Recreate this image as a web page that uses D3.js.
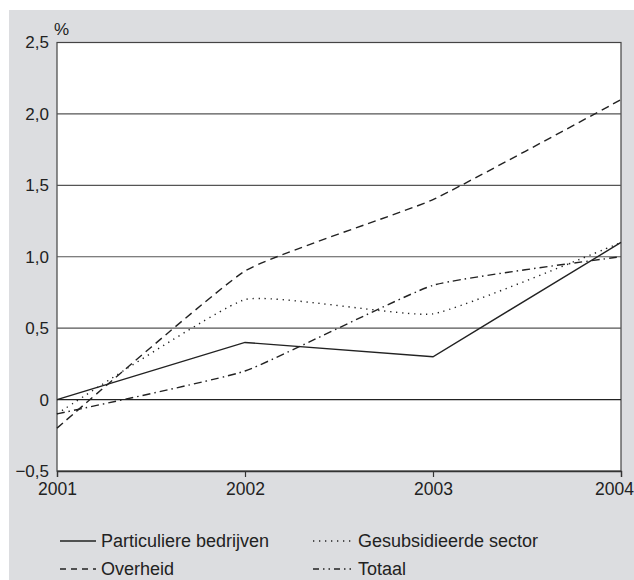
<!DOCTYPE html>
<html><head><meta charset="utf-8">
<script src="https://cdn.jsdelivr.net/npm/d3@7"></script>
<style>body{margin:0;background:#fff}svg{display:block}text{font-family:"Liberation Sans",Arial,sans-serif;fill:#222}</style>
</head><body>
<script>
const years = [2001, 2002, 2003, 2004];
const particuliere = [0, 0.4, 0.3, 1.1];
const gesubsidieerde = [-0.1, 0.7, 0.6, 1.1];
const overheid = [-0.2, 0.9, 1.4, 2.1];
const totaal = [-0.1, 0.2, 0.8, 1.0];
const yTicks = [-0.5, 0, 0.5, 1.0, 1.5, 2.0, 2.5];
const seriesNames = ["Particuliere bedrijven", "Gesubsidieerde sector", "Overheid", "Totaal"];

const W = 634, H = 580;
const svg = d3.select("body").append("svg").attr("width", W).attr("height", H);
svg.append("rect").attr("x", 9).attr("y", 10).attr("width", W - 9).attr("height", H - 10).attr("fill", "#dcdde0");

const x = d3.scaleLinear().domain([2001, 2004]).range([57, 621]);
const y = d3.scaleLinear().domain([-0.5, 2.5]).range([471, 42.5]);

svg.append("rect").attr("x", x(2001)).attr("y", y(2.5)).attr("width", x(2004) - x(2001)).attr("height", y(-0.5) - y(2.5))
  .attr("fill", "#fff").attr("stroke", "#444").attr("stroke-width", 1.2);

const fmt = v => v === 0 ? "0" : d3.format(".1f")(v).replace(".", ",").replace("-", "\u2212");

// gridlines
svg.append("g").selectAll("line").data(yTicks.filter(v => v > -0.5 && v < 2.5)).join("line")
  .attr("x1", x(2001)).attr("x2", x(2004)).attr("y1", d => y(d)).attr("y2", d => y(d))
  .attr("stroke", d => d === 0 ? "#222" : "#555").attr("stroke-width", d => d === 0 ? 1.3 : 1.1);

// y axis labels
const yAxis = d3.axisLeft(y).tickValues(yTicks).tickSize(0).tickPadding(8).tickFormat(fmt);
const gy = svg.append("g").attr("transform", `translate(${x(2001)},0)`).call(yAxis);
gy.select(".domain").remove();
gy.selectAll("text").attr("font-size", 17).attr("fill", "#222").attr("font-family", "Liberation Sans, Arial, sans-serif");

// x axis
const xAxis = d3.axisBottom(x).tickValues(years).tickSize(6).tickPadding(6).tickFormat(d3.format("d"));
const gx = svg.append("g").attr("transform", `translate(0,${y(-0.5)})`).call(xAxis);
gx.select(".domain").attr("stroke", "#333").attr("stroke-width", 1.3);
gx.selectAll(".tick line").attr("stroke", "#333").attr("stroke-width", 1.2);
gx.selectAll("text").attr("font-size", 17.5).attr("fill", "#222").attr("font-family", "Liberation Sans, Arial, sans-serif");
gx.selectAll(".tick").filter(d => d === 2004).select("text").attr("dx", -7);

svg.append("text").attr("x", 54).attr("y", 35).attr("font-size", 17).text("%");

const smooth = d3.curveCardinal.tension(0.6);
const styles = [
  {data: particuliere, dash: null, curve: d3.curveLinear},
  {data: gesubsidieerde, dash: "1.3,4.7", curve: smooth},
  {data: overheid, dash: "8,5", curve: smooth},
  {data: totaal, dash: "8,4,1.5,4", curve: smooth}
];

const g = svg.append("g");
styles.forEach(s => {
  const line = d3.line().x((d, i) => x(years[i])).y(d => y(d)).curve(s.curve);
  g.append("path").datum(s.data).attr("d", line).attr("fill", "none")
    .attr("stroke", "#222").attr("stroke-width", 1.4)
    .attr("stroke-dasharray", s.dash);
});

// legend
const legendPos = [
  {lx: 60, tx: 101, y: 541, dash: null},
  {lx: 313, tx: 358, y: 541, dash: "1.3,4.7"},
  {lx: 60, tx: 101, y: 569, dash: "6,5"},
  {lx: 313, tx: 358, y: 569, dash: "6,4,1.5,4,1.5,4"}
];
const leg = svg.append("g");
seriesNames.forEach((n, i) => {
  const p = legendPos[i];
  leg.append("line").attr("x1", p.lx).attr("x2", p.tx - 5).attr("y1", p.y).attr("y2", p.y)
    .attr("stroke", "#222").attr("stroke-width", 1.3).attr("stroke-dasharray", p.dash);
  leg.append("text").attr("x", p.tx).attr("y", p.y + 6).attr("font-size", 18).text(n);
});
</script>
</body></html>
